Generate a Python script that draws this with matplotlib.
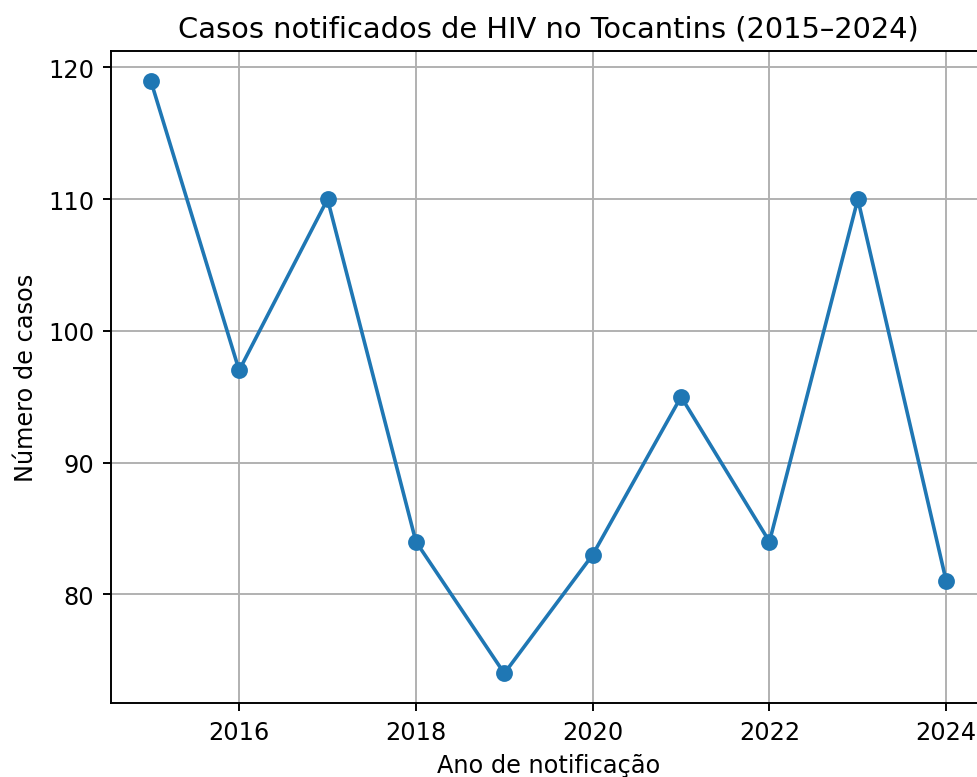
import matplotlib
matplotlib.use("Agg")
import matplotlib.pyplot as plt

# dados
anos = [2015, 2016, 2017, 2018, 2019, 2020, 2021, 2022, 2023, 2024]
casos = [119, 97, 110, 84, 74, 83, 95, 84, 110, 81]

dpi = 173
fig = plt.figure(figsize=(977 / dpi, 778 / dpi), dpi=dpi)
ax = fig.add_axes([111 / 977, 1 - 704 / 778, 875 / 977, 652 / 778])

ax.plot(anos, casos, marker='o', linestyle='-')

ax.set_title('Casos notificados de HIV no Tocantins (2015–2024)')
ax.set_xlabel('Ano de notificação')
ax.set_ylabel('Número de casos')
ax.grid(True)

fig.savefig('out.png', dpi=dpi)
